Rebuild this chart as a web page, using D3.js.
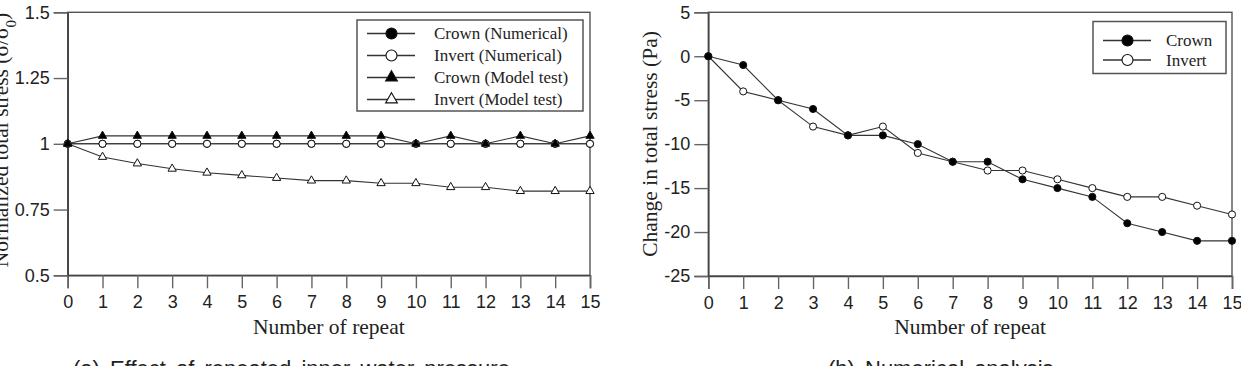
<!DOCTYPE html>
<html><head><meta charset="utf-8">
<script src="https://cdn.jsdelivr.net/npm/d3@7"></script>
<style>body{margin:0;background:#fff} svg{display:block}</style>
</head><body>
<svg id="c" width="1241" height="366"></svg>
<script>
// ---- data ----
const repeats = [0,1,2,3,4,5,6,7,8,9,10,11,12,13,14,15];
const xTickLabels = ["0","1","2","3","4","5","6","7","8","9","10","11","12","13","14","15"];

// (a) normalized total stress
const crownNumerical = [1,1,1,1,1,1,1,1,1,1,1,1,1,1,1,1];
const invertNumerical = [1,1,1,1,1,1,1,1,1,1,1,1,1,1,1,1];
const crownModelTest = [1,1.03,1.03,1.03,1.03,1.03,1.03,1.03,1.03,1.03,1.0,1.03,1.0,1.03,1.0,1.03];
const invertModelTest = [1,0.95,0.925,0.905,0.89,0.88,0.87,0.86,0.86,0.85,0.85,0.835,0.835,0.82,0.82,0.82];
const yTicksA = [0.5,0.75,1,1.25,1.5];
const yTickLabelsA = ["0.5","0.75","1","1.25","1.5"];
const legendA = ["Crown (Numerical)","Invert (Numerical)","Crown (Model test)","Invert (Model test)"];

// (b) change in total stress
const crownChange = [0,-1,-5,-6,-9,-9,-10,-12,-12,-14,-15,-16,-19,-20,-21,-21];
const invertChange = [0,-4,-5,-8,-9,-8,-11,-12,-13,-13,-14,-15,-16,-16,-17,-18];
const yTicksB = [-25,-20,-15,-10,-5,0,5];
const yTickLabelsB = ["-25","-20","-15","-10","-5","0","5"];
const legendB = ["Crown","Invert"];

// ---- drawing ----
const svg = d3.select("#c");
const SERIF = "'Liberation Serif','Times New Roman',serif";
const SANS = "'Liberation Sans',Arial,sans-serif";
const LINE = "#333";

function panel(o){
  const x = d3.scaleLinear().domain([0,15]).range([o.x0,o.x1]);
  const y = d3.scaleLinear().domain(o.yDomain).range([o.y1,o.y0]);
  const g = svg.append("g");
  g.append("rect").attr("x",o.x0).attr("y",o.y0).attr("width",o.x1-o.x0).attr("height",o.y1-o.y0)
    .attr("fill","none").attr("stroke","#555").attr("stroke-width",1.4);
  const xa = g.append("g").attr("transform",`translate(0,${o.y1})`)
    .call(d3.axisBottom(x).tickValues(repeats).tickFormat((d,i)=>xTickLabels[i]).tickSize(13).tickPadding(7));
  const ya = g.append("g").attr("transform",`translate(${o.x0},0)`)
    .call(d3.axisLeft(y).tickValues(o.yTicks).tickFormat((d,i)=>o.yLabels[i]).tickSize(14).tickPadding(4));
  [xa,ya].forEach(a=>{
    a.select(".domain").attr("stroke","#444").attr("stroke-width",1.6);
    a.selectAll(".tick line").attr("stroke","#666").attr("stroke-width",1.4);
    a.selectAll(".tick text").attr("fill","#222").style("font-family",SANS).style("font-size","18px");
  });
  g.append("text").attr("x",(o.x0+o.x1)/2).attr("y",334).attr("text-anchor","middle")
    .style("font-family",SERIF).style("font-size","21.5px").attr("fill","#222").text("Number of repeat");
  const yt = g.append("text").attr("transform",`translate(${o.ytX},${o.ytY}) rotate(-90)`).attr("text-anchor","middle")
    .style("font-family",SERIF).style("font-size","21.5px").attr("fill","#222");
  o.yTitle(yt);
  g.append("text").attr("x",o.capX).attr("y",376).style("font-family",SANS).style("font-size","22px")
    .style("word-spacing","4px").attr("fill","#222").text(o.caption);
  const line = d3.line().x((d,i)=>x(repeats[i])).y(d=>y(d));
  o.series.forEach(s=>{
    g.append("path").datum(s.values).attr("d",line).attr("fill","none").attr("stroke",LINE).attr("stroke-width",1.1);
  });
  o.series.forEach(s=>{
    g.selectAll(null).data(s.values).enter().append("path")
      .attr("transform",(d,i)=>`translate(${x(repeats[i])},${y(d)})`)
      .attr("d",d3.symbol().type(s.tri?d3.symbolTriangle:d3.symbolCircle).size(s.tri?30:40)())
      .attr("fill",s.filled?"#000":"#fff").attr("stroke","#111").attr("stroke-width",1);
  });
  const L = o.legend;
  g.append("rect").attr("x",L.x).attr("y",L.y).attr("width",L.w).attr("height",L.h)
    .attr("fill","#fff").attr("stroke","#555").attr("stroke-width",1.5);
  o.series.slice().sort((a,b)=>a.li-b.li).forEach((s,k)=>{
    const cy = L.firstY + k*L.step;
    g.append("line").attr("x1",L.x+10).attr("x2",L.x+58).attr("y1",cy).attr("y2",cy).attr("stroke",LINE).attr("stroke-width",1.4);
    g.append("path").attr("transform",`translate(${L.x+34.5},${cy})`)
      .attr("d",d3.symbol().type(s.tri?d3.symbolTriangle:d3.symbolCircle).size(s.tri?60:95)())
      .attr("fill",s.filled?"#000":"#fff").attr("stroke","#111").attr("stroke-width",1.1);
    g.append("text").attr("x",L.x+L.tx).attr("y",cy).attr("dy","0.33em")
      .style("font-family",SERIF).style("font-size","17px").attr("fill","#222").text(s.name);
  });
}

panel({
  x0:67.7, x1:590, y0:12.3, y1:275.3, yDomain:[0.5,1.5], yTicks:yTicksA, yLabels:yTickLabelsA,
  ytX:8, ytY:140,
  yTitle: t=>{ t.append("tspan").text("Normalized total stress (σ/σ");
               t.append("tspan").attr("baseline-shift","sub").style("font-size","15px").text("0");
               t.append("tspan").text(")"); },
  capX:73, caption:"(a) Effect of repeated inner water pressure",
  series:[
    {name:legendA[0], values:crownNumerical, filled:true, tri:false, li:0},
    {name:legendA[1], values:invertNumerical, filled:false, tri:false, li:1},
    {name:legendA[3], values:invertModelTest, filled:false, tri:true, li:3},
    {name:legendA[2], values:crownModelTest, filled:true, tri:true, li:2}
  ],
  legend:{x:357, y:20, w:226, h:91, firstY:33.5, step:22, tx:77}
});

panel({
  x0:708.3, x1:1232, y0:12.3, y1:276, yDomain:[-25,5], yTicks:yTicksB, yLabels:yTickLabelsB,
  ytX:657, ytY:144,
  yTitle: t=>t.text("Change in total stress (Pa)"),
  capX:828, caption:"(b) Numerical analysis",
  series:[
    {name:legendB[1], values:invertChange, filled:false, tri:false, li:1},
    {name:legendB[0], values:crownChange, filled:true, tri:false, li:0}
  ],
  legend:{x:1093, y:21.5, w:133, h:52, firstY:40.5, step:19.5, tx:73}
});
</script>
</body></html>
